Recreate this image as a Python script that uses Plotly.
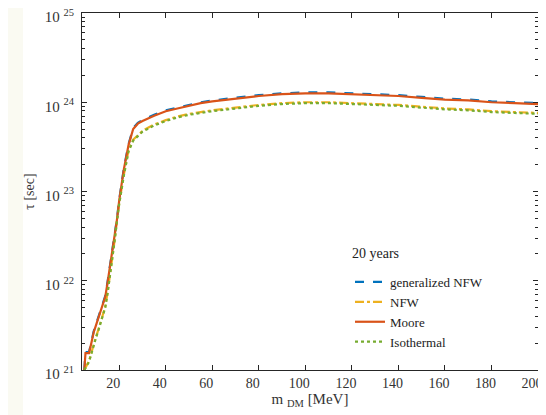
import plotly.graph_objects as go

m_dm = [5, 5.5, 6, 7, 8, 9, 10, 11, 12, 13, 14, 15, 16, 17, 18, 19, 20, 22, 24, 26, 28, 30,
        35, 40, 45, 50, 55, 60, 70, 80, 90, 100, 110, 120, 130, 140, 150, 160, 170, 180, 190, 200]

# log10(tau/sec)
log_gnfw = [21.00, 21.20, 21.20, 21.20, 21.31, 21.43, 21.51, 21.59, 21.67, 21.75, 21.83, 21.99, 22.17,
            22.33, 22.49, 22.69, 22.91, 23.26, 23.53, 23.71, 23.77, 23.80, 23.86, 23.91, 23.94, 23.97,
            24.00, 24.02, 24.05, 24.08, 24.10, 24.11, 24.11, 24.10, 24.09, 24.08, 24.06, 24.04, 24.03,
            24.01, 24.00, 23.99]
log_moore = [21.00, 21.19, 21.19, 21.19, 21.30, 21.42, 21.50, 21.58, 21.66, 21.74, 21.82, 21.98, 22.16,
             22.32, 22.48, 22.68, 22.90, 23.25, 23.52, 23.70, 23.76, 23.79, 23.85, 23.90, 23.93, 23.96,
             23.99, 24.01, 24.04, 24.07, 24.09, 24.10, 24.10, 24.09, 24.08, 24.07, 24.05, 24.03, 24.02,
             24.00, 23.99, 23.98]
log_nfw = [21.00, 21.03, 21.06, 21.10, 21.19, 21.29, 21.37, 21.45, 21.53, 21.61, 21.71, 21.87, 22.05,
           22.23, 22.45, 22.67, 22.87, 23.19, 23.46, 23.58, 23.63, 23.68, 23.75, 23.80, 23.84, 23.87,
           23.89, 23.91, 23.94, 23.97, 23.99, 24.00, 24.00, 23.99, 23.98, 23.97, 23.95, 23.93, 23.92,
           23.90, 23.89, 23.88]
log_iso = [21.00, 21.02, 21.05, 21.09, 21.18, 21.28, 21.36, 21.44, 21.52, 21.60, 21.70, 21.86, 22.04,
           22.22, 22.44, 22.66, 22.86, 23.18, 23.45, 23.57, 23.62, 23.67, 23.74, 23.79, 23.83, 23.86,
           23.88, 23.90, 23.93, 23.96, 23.98, 23.99, 23.99, 23.98, 23.97, 23.96, 23.94, 23.92, 23.91,
           23.89, 23.88, 23.87]

x_ticks = [20, 40, 60, 80, 100, 120, 140, 160, 180, 200]
y_decades = [21, 22, 23, 24, 25]
y_ticktext = ["10 <sup>%d</sup>" % d for d in y_decades]

names = ["generalized NFW", "NFW", "Moore", "Isothermal"]
colors = ["#0072BD", "#EDB120", "#D95319", "#77AC30"]
dashes = ["dash", "dashdot", "solid", "dot"]
series = [log_gnfw, log_nfw, log_moore, log_iso]

FONT = "Liberation Serif"

fig = go.Figure()
for name, col, dsh, s in zip(names, colors, dashes, series):
    fig.add_trace(go.Scatter(x=m_dm, y=[10.0 ** v for v in s], mode="lines", name=name,
                             line=dict(color=col, dash=dsh, width=2.2)))

# page has an 8px body margin: the figure sits at page (8, 8)
OFF = 8
W, H = 546 - OFF, 415 - OFF
L, R, T, B = 82 - OFF, 8, 13 - OFF, 45
pw, ph = W - L - R, H - T - B
# page-coordinate helpers (page px -> paper fraction)
px = lambda x: (x - 82) / pw
py = lambda y: (370 - y) / ph

fig.add_shape(type="rect", xref="paper", yref="paper", layer="below",
              x0=px(23), x1=px(560), y0=py(430), y1=py(5),
              fillcolor="white", line=dict(width=0))

fig.add_annotation(text="20 years", xref="paper", yref="paper",
                   x=px(350), y=py(253), xanchor="left", yanchor="middle",
                   showarrow=False, font=dict(family=FONT, size=14, color="#222"))

axis_common = dict(showline=True, linecolor="#262626", linewidth=1, ticks="inside",
                   mirror="allticks", showgrid=False, zeroline=False, tickcolor="#262626",
                   automargin=False, ticklabeloverflow="allow")

fig.update_xaxes(range=[4, 200], tickmode="array", tickvals=x_ticks, ticklen=5,
                 ticklabelshift=-6,
                 tickfont=dict(family=FONT, size=14, color="#333"),
                 title=dict(text="m <sub>DM</sub> [MeV]", font=dict(family=FONT, size=15, color="#333"),
                            standoff=2),
                 **axis_common)
fig.update_yaxes(type="log", range=[21, 25], tickmode="array",
                 tickvals=[10.0 ** d for d in y_decades], ticktext=y_ticktext, ticklen=5,
                 ticklabelshift=4, ticklabelstandoff=4,
                 tickfont=dict(family=FONT, size=15, color="#333"),
                 minor=dict(dtick="D1", ticks="inside", ticklen=3, tickcolor="#262626", showgrid=False),
                 title=dict(text="τ [sec]", font=dict(family=FONT, size=14, color="#333"), standoff=6),
                 **axis_common)

fig.update_layout(
    width=W, height=H,
    margin=dict(l=L, r=R, t=T, b=B, autoexpand=False),
    paper_bgcolor="#FAFAF2", plot_bgcolor="white",
    font=dict(family=FONT, size=14, color="#222"),
    showlegend=True,
    legend=dict(x=px(350), y=py(357), xanchor="left", yanchor="bottom",
                bgcolor="rgba(0,0,0,0)", font=dict(family=FONT, size=13, color="#222"),
                tracegroupgap=0, itemwidth=30),
)

fig.write_html("out.html")
